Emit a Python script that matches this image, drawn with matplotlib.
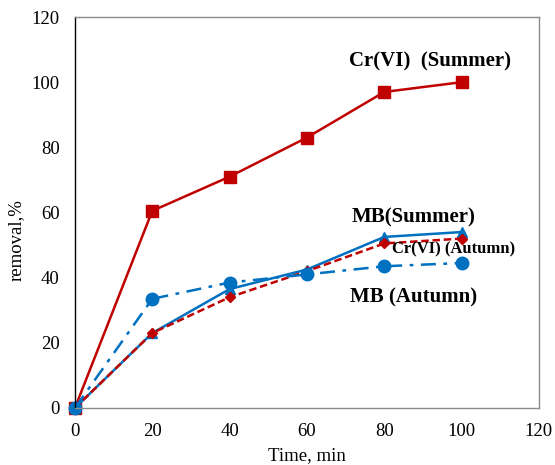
import matplotlib
matplotlib.use('Agg')
import matplotlib.pyplot as plt

plt.rcParams['font.family'] = ['Liberation Serif', 'DejaVu Serif']

time = [0, 20, 40, 60, 80, 100]
cr_summer = [0, 60.5, 71, 83, 97, 100]
mb_summer = [0, 23, 36.5, 42.5, 52.5, 54]
cr_autumn = [0, 23, 34, 42, 50.5, 52]
mb_autumn = [0, 33.5, 38.5, 41, 43.5, 44.5]

red = '#C00000'
blue = '#0070C0'

fig = plt.figure(figsize=(5.55, 4.65), dpi=100)
ax = fig.add_axes([0.135, 0.1226, 0.836, 0.8408])

ax.plot(time, cr_summer, color=red, lw=1.8, marker='s', ms=8.5)
ax.plot(time, mb_summer, color=blue, lw=1.8, marker='^', ms=7.5)
ax.plot(time, cr_autumn, color=red, lw=1.8, ls=(0, (3, 1.5)), marker='D', ms=5.5)
ax.plot(time, mb_autumn, color=blue, lw=1.8, ls=(0, (6, 3, 1.5, 3)), marker='o', ms=9)

ax.set_xlim(0, 120)
ax.set_ylim(0, 120)
ax.set_xticks(range(0, 121, 20))
ax.set_yticks(range(0, 121, 20))
ax.tick_params(length=0, labelsize=13.5)
ax.tick_params(axis='x', pad=11)
ax.tick_params(axis='y', pad=11)
ax.set_xlabel('Time, min', fontsize=13.5, labelpad=5)
ax.set_ylabel('removal,%', fontsize=13.5)
ax.yaxis.set_label_coords(-0.108, 0.43)

for side in ['top', 'right', 'bottom']:
    ax.spines[side].set_color('#8c8c8c')
ax.spines['left'].set_color('black')
for s in ax.spines.values():
    s.set_linewidth(1.0)

ax.text(91.8, 106.2, 'Cr(VI)  (Summer)', fontsize=15, fontweight='bold', ha='center', va='center')
ax.text(87.7, 58.6, 'MB(Summer)', fontsize=15, fontweight='bold', ha='center', va='center')
ax.text(97.8, 48.8, 'Cr(VI) (Autumn)', fontsize=12, fontweight='bold', ha='center', va='center')
ax.text(87.7, 33.8, 'MB (Autumn)', fontsize=15, fontweight='bold', ha='center', va='center')

for line in ax.lines:
    line.set_clip_on(False)

fig.savefig('out.png', dpi=100)
